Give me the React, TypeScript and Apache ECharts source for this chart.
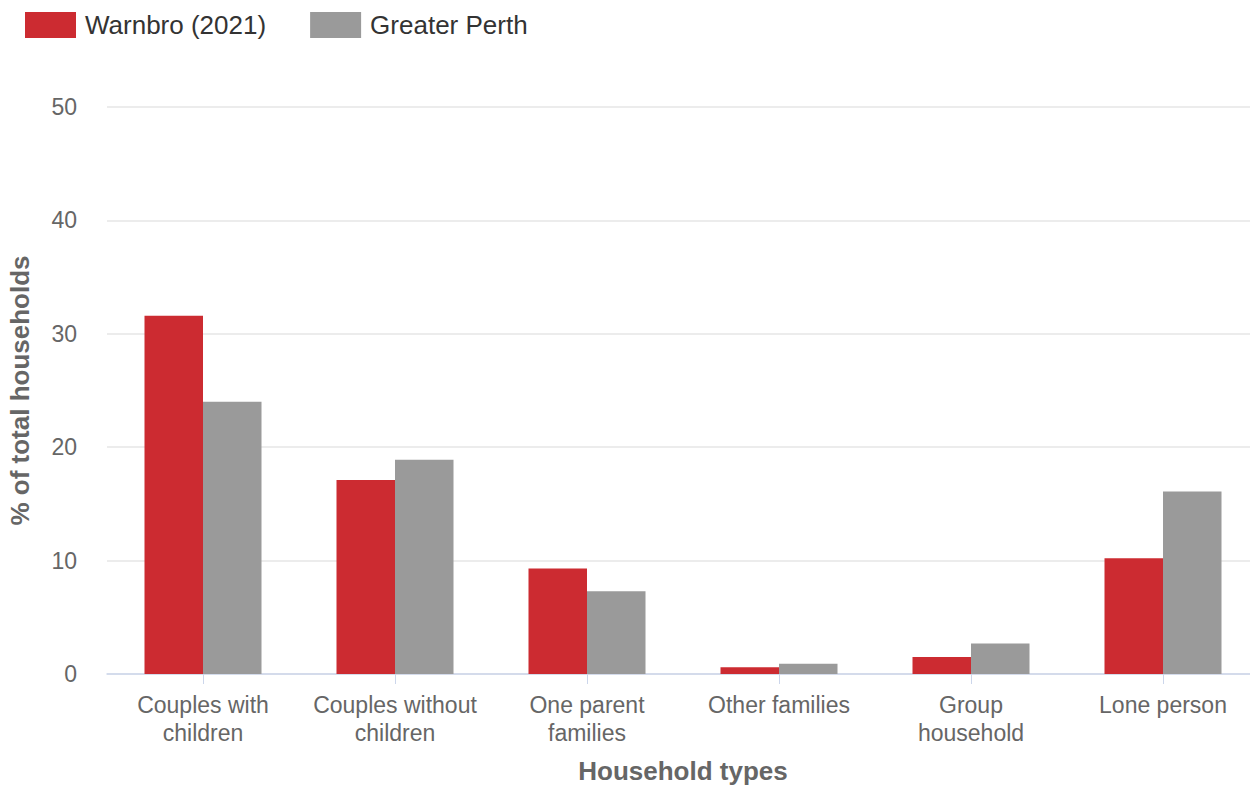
import React, { useEffect, useRef } from "react";
import * as echarts from "echarts";

const categories = [
  "Couples with\nchildren",
  "Couples without\nchildren",
  "One parent\nfamilies",
  "Other families",
  "Group\nhousehold",
  "Lone person",
];
const warnbro = [31.6, 17.1, 9.3, 0.6, 1.5, 10.2];
const greaterPerth = [24.0, 18.9, 7.3, 0.9, 2.7, 16.1];
const seriesNames = ["Warnbro (2021)", "Greater Perth"];

export default function App() {
  const ref = useRef<HTMLDivElement>(null);
  useEffect(() => {
    if (!ref.current) return;
    const chart = echarts.init(ref.current, null, { renderer: "svg" });
    const font = "Liberation Sans, Arial, sans-serif";
    chart.setOption({
      animation: false,
      textStyle: { fontFamily: font },
      legend: {
        left: 20,
        top: 7,
        itemWidth: 51,
        itemHeight: 26,
        itemGap: 44,
        icon: "rect",
        textStyle: { fontSize: 26, color: "#333", fontFamily: font, padding: [0, 0, 0, 4] },
        data: seriesNames,
      },
      grid: { left: 107, top: 107, width: 1152, height: 567, outerBoundsMode: "none", containLabel: false },
      xAxis: {
        type: "category",
        data: categories,
        axisLine: { lineStyle: { color: "#ccd6eb", width: 1.5 } },
        axisTick: { show: true, alignWithLabel: true, length: 10, lineStyle: { color: "#ccd6eb" } },
        axisLabel: { fontSize: 23, color: "#666", lineHeight: 28, margin: 17, fontFamily: font, interval: 0 },
        name: "Household types",
        nameLocation: "middle",
        nameGap: 86,
        nameTextStyle: { fontSize: 26, lineHeight: 22, fontWeight: "bold", color: "#666", fontFamily: font },
      },
      yAxis: {
        type: "value",
        min: 0,
        max: 50,
        interval: 10,
        axisLine: { show: false },
        axisTick: { show: false },
        splitLine: { lineStyle: { color: "#e6e6e6", width: 1.5 } },
        axisLabel: { fontSize: 23, color: "#666", margin: 30, fontFamily: font },
        name: "% of total households",
        nameLocation: "middle",
        nameGap: 74,
        nameTextStyle: { fontSize: 26, fontWeight: "bold", color: "#666", fontFamily: font },
      },
      series: [
        {
          name: seriesNames[0],
          type: "bar",
          data: warnbro,
          barWidth: 58.5,
          barGap: "0%",
          itemStyle: { color: "#cc2b31" },
        },
        {
          name: seriesNames[1],
          type: "bar",
          data: greaterPerth,
          barWidth: 58.5,
          barGap: "0%",
          itemStyle: { color: "#9a9a9a" },
        },
      ],
    });
    return () => chart.dispose();
  }, []);
  return (
    <div
      ref={ref}
      style={{ position: "fixed", left: 0, top: 0, width: 1250, height: 785, background: "#fff" }}
    />
  );
}
